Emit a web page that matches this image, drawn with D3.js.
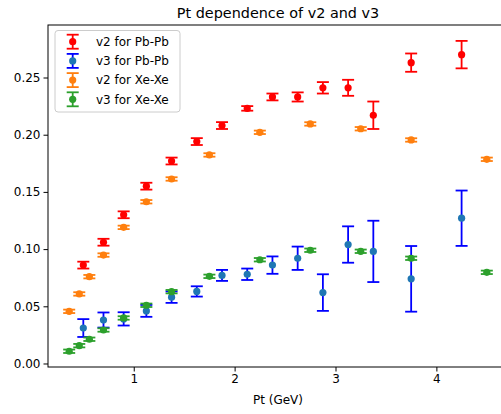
<!DOCTYPE html>
<html><head><meta charset="utf-8">
<script src="https://cdn.jsdelivr.net/npm/d3@7"></script>
<style>body{margin:0;background:#fff}svg{display:block;font-family:"DejaVu Sans",sans-serif}</style>
</head><body>
<svg id="c" width="501" height="414"></svg>
<script>
// ---- data ----
const ptPb = [0.5,0.7,0.9,1.125,1.375,1.625,1.875,2.125,2.375,2.625,2.875,3.125,3.375,3.75,4.25];
const v2Pb = [0.086,0.106,0.130,0.155,0.177,0.194,0.208,0.223,0.233,0.233,0.241,0.241,0.217,0.263,0.270];
const v2PbErr = [0.003,0.003,0.003,0.003,0.003,0.003,0.003,0.002,0.003,0.004,0.005,0.007,0.012,0.008,0.012];
const v3Pb = [0.031,0.038,0.039,0.046,0.058,0.063,0.077,0.078,0.086,0.092,0.062,0.104,0.098,0.074,0.127];
const v3PbErr = [0.0078,0.0066,0.0058,0.0052,0.005,0.0045,0.0048,0.005,0.0076,0.0102,0.016,0.0159,0.0268,0.0287,0.0242];
const ptXe = [0.36,0.46,0.56,0.7,0.9,1.125,1.375,1.75,2.25,2.75,3.25,3.75,4.5];
const v2Xe = [0.0456,0.0608,0.0759,0.0948,0.119,0.1414,0.1613,0.1823,0.2021,0.2094,0.2052,0.1954,0.1785];
const v2XeErr = [0.0015,0.0015,0.0015,0.0015,0.0015,0.0015,0.0015,0.0015,0.0015,0.0015,0.0015,0.0015,0.0015];
const v3Xe = [0.0107,0.0156,0.0212,0.0293,0.0398,0.0509,0.0628,0.0762,0.0907,0.099,0.0981,0.092,0.0797];
const v3XeErr = [0.0015,0.0015,0.0015,0.0015,0.0015,0.0015,0.0015,0.0015,0.0015,0.0015,0.0015,0.0015,0.0015];
const xTicks = [1,2,3,4];
const yTicks = [0,0.05,0.10,0.15,0.20,0.25];
const title = "Pt dependence of v2 and v3";
const xLabel = "Pt (GeV)";

const series = [
  {name:"v2 for Pb-Pb", x:ptPb, y:v2Pb, e:v2PbErr, mk:"#ff0000", ln:"#ff0000"},
  {name:"v3 for Pb-Pb", x:ptPb, y:v3Pb, e:v3PbErr, mk:"#1f77b4", ln:"#0000ff"},
  {name:"v2 for Xe-Xe", x:ptXe, y:v2Xe, e:v2XeErr, mk:"#ff7f0e", ln:"#ff7f0e"},
  {name:"v3 for Xe-Xe", x:ptXe, y:v3Xe, e:v3XeErr, mk:"#2ca02c", ln:"#2ca02c"}
];

// ---- layout ----
const L=48, R=508, T=25, B=367;
const x = d3.scaleLinear().domain([0.15,4.71]).range([L,R]);
const y = d3.scaleLinear().domain([-0.00306,0.2959]).range([B,T]);
const svg = d3.select("#c");
const cap = 6, mr = 3.6;

const plot = svg.append("g");
series.forEach(s=>{
  const g = plot.append("g");
  const pts = s.x.map((xv,i)=>({x:xv,y:s.y[i],e:s.e[i]}));
  const eb = g.selectAll("g.eb").data(pts).join("g").attr("stroke",s.ln).attr("stroke-width",1.8);
  eb.append("line").attr("x1",d=>x(d.x)).attr("x2",d=>x(d.x)).attr("y1",d=>y(d.y-d.e)).attr("y2",d=>y(d.y+d.e));
  eb.append("line").attr("x1",d=>x(d.x)-cap).attr("x2",d=>x(d.x)+cap).attr("y1",d=>y(d.y-d.e)).attr("y2",d=>y(d.y-d.e));
  eb.append("line").attr("x1",d=>x(d.x)-cap).attr("x2",d=>x(d.x)+cap).attr("y1",d=>y(d.y+d.e)).attr("y2",d=>y(d.y+d.e));
  g.selectAll("circle").data(pts).join("circle").attr("cx",d=>x(d.x)).attr("cy",d=>y(d.y)).attr("r",mr).attr("fill",s.mk);
});

// axes
const ax = svg.append("g").attr("transform",`translate(0,${B})`)
  .call(d3.axisBottom(x).tickValues(xTicks).tickFormat(d3.format("d")).tickSize(4.5).tickPadding(3));
const ay = svg.append("g").attr("transform",`translate(${L},0)`)
  .call(d3.axisLeft(y).tickValues(yTicks).tickFormat(d3.format(".2f")).tickSize(4.5).tickPadding(3));
[ax,ay].forEach(a=>{
  a.select(".domain").remove();
  a.selectAll("text").attr("font-size",12).attr("fill","#000").attr("font-family","DejaVu Sans");
  a.selectAll("line").attr("stroke","#000").attr("stroke-width",1);
});
svg.append("rect").attr("x",L).attr("y",T).attr("width",R-L).attr("height",B-T)
  .attr("fill","none").attr("stroke","#000").attr("stroke-width",1);

svg.append("text").attr("x",(L+R)/2).attr("y",18).attr("text-anchor","middle")
  .attr("font-size",14.4).attr("fill","#000").text(title);
svg.append("text").attr("x",(L+R)/2).attr("y",404).attr("text-anchor","middle")
  .attr("font-size",12).attr("fill","#000").text(xLabel);

// legend
const lg = svg.append("g");
lg.append("rect").attr("x",55).attr("y",30.5).attr("width",125).attr("height",81.5).attr("rx",3)
  .attr("fill","#fff").attr("fill-opacity",0.8).attr("stroke","#ccc").attr("stroke-width",1);
series.forEach((s,i)=>{
  const cy = 41.7 + i*19.2, cx = 72.7;
  const g = lg.append("g").attr("stroke",s.ln).attr("stroke-width",1.8);
  g.append("line").attr("x1",cx).attr("x2",cx).attr("y1",cy-7).attr("y2",cy+7);
  g.append("line").attr("x1",cx-cap).attr("x2",cx+cap).attr("y1",cy-7).attr("y2",cy-7);
  g.append("line").attr("x1",cx-cap).attr("x2",cx+cap).attr("y1",cy+7).attr("y2",cy+7);
  lg.append("circle").attr("cx",cx).attr("cy",cy).attr("r",mr).attr("fill",s.mk);
  lg.append("text").attr("x",96).attr("y",cy+4.3).attr("font-size",12).attr("fill","#000").text(s.name);
});
</script>
</body></html>
